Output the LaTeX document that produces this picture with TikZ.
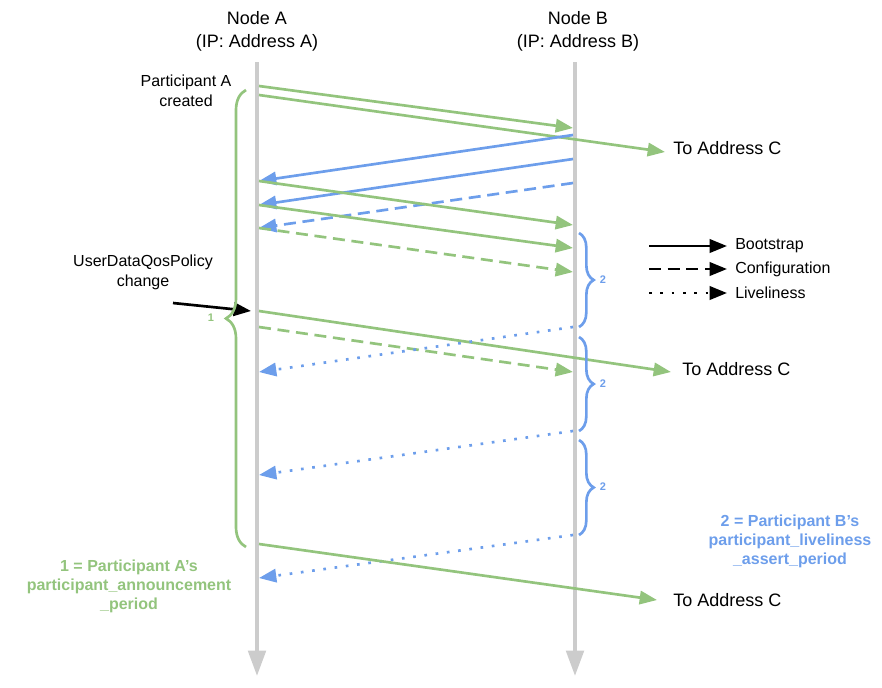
\documentclass[tikz,border=0pt]{standalone}
\usepackage{fontspec}
\setmainfont{Liberation Sans}
\usetikzlibrary{arrows.meta, decorations.pathreplacing}

\definecolor{grn}{HTML}{93C47D}
\definecolor{blu}{HTML}{6D9EEB}
\definecolor{lgray}{HTML}{CCCCCC}

\tikzset{
  msg/.style={line width=2pt, -{Triangle[length=13pt,width=10pt]}},
  gmsg/.style={msg, grn},
  bmsg/.style={msg, blu},
  dsh/.style={dash pattern=on 9pt off 5pt},
  dts/.style={dash pattern=on 2pt off 6.5pt},
  life/.style={line width=3pt, lgray, -{Triangle[length=19pt,width=13pt]}},
  brc/.style={decorate, line width=2pt, decoration={brace, amplitude=#1}},
  lbl/.style={font=\fontsize{12}{15}\selectfont, align=center, inner sep=0pt},
  big/.style={font=\fontsize{13.5}{17.25}\selectfont, align=center, inner sep=0pt},
  defn/.style={font=\bfseries\fontsize{12}{14.3}\selectfont, align=center, inner sep=0pt},
  num/.style={font=\bfseries\fontsize{8.25}{10}\selectfont, inner sep=0pt},
}

\begin{document}
\begin{tikzpicture}[x=0.75pt, y=-0.75pt]
\useasboundingbox (0,0) rectangle (882,687);

% lifelines
\node[big] (nodeA) at (257,31.5) {Node A\\(IP: Address A)};
\node[big] (nodeB) at (578,31.5) {Node B\\(IP: Address B)};
\coordinate (Atop) at (257,62);
\coordinate (Abot) at (257,676);
\coordinate (Btop) at (575,62);
\coordinate (Bbot) at (575,676);
\draw[life] (Atop) -- (Abot);
\draw[life] (Btop) -- (Bbot);

% points on node A
\coordinate (a1) at (259,86);
\coordinate (a2) at (259,95);
\coordinate (a3) at (259,181);
\coordinate (a4) at (259,205);
\coordinate (a5) at (259,228);
\coordinate (a6) at (259,311);
\coordinate (a7) at (259,327);
\coordinate (a8) at (259,372);
\coordinate (a9) at (259,475);
\coordinate (a10) at (259,578);
\coordinate (a11) at (259,544);
% points on node B
\coordinate (b1) at (573,128);
\coordinate (b2) at (573,135);
\coordinate (b3) at (573,159);
\coordinate (b4) at (573,183);
\coordinate (b5) at (573,225);
\coordinate (b6) at (573,248);
\coordinate (b7) at (573,272);
\coordinate (b8) at (573,327);
\coordinate (b9) at (573,372);
\coordinate (b10) at (573,431);
\coordinate (b11) at (573,535);

% towards address C
\node[big, anchor=west] (toC1) at (673,148) {To Address C};
\node[big, anchor=west] (toC2) at (682,369) {To Address C};
\node[big, anchor=west] (toC3) at (673,600) {To Address C};
\coordinate (c1) at (665,152);
\coordinate (c2) at (671,372);
\coordinate (c3) at (657,600);

% messages
\draw[gmsg] (a1) -- (b1);
\draw[gmsg] (a2) -- (c1);
\draw[bmsg] (b2) -- (a3);
\draw[bmsg] (b3) -- (a4);
\draw[bmsg, dsh] (b4) -- (a5);
\draw[gmsg] (a3) -- (b5);
\draw[gmsg] (a4) -- (b6);
\draw[gmsg, dsh] (a5) -- (b7);
\draw[gmsg] (a6) -- (c2);
\draw[gmsg, dsh] (a7) -- (b9);
\draw[bmsg, dts] (b8) -- (a8);
\draw[bmsg, dts] (b10) -- (a9);
\draw[bmsg, dts] (b11) -- (a10);
\draw[gmsg] (a11) -- (c3);

% events on node A
\node[lbl] (created) at (186,91) {Participant A\\created};
\node[lbl] (policy) at (143,272) {UserDataQosPolicy\\change};
\coordinate (p0) at (173,303);
\coordinate (p1) at (251,311);
\draw[msg, black] (p0) -- (p1);

% periods
\draw[grn, brc=15pt] (246,547) -- (246,90);
\node[num, grn] (one) at (211,318) {1};
\draw[blu, brc=11pt] (579,233) -- (579,327);
\draw[blu, brc=11pt] (579,337) -- (579,431);
\draw[blu, brc=11pt] (579,440) -- (579,535);
\node[num, blu] (two1) at (603,280) {2};
\node[num, blu] (two2) at (603,384) {2};
\node[num, blu] (two3) at (603,487) {2};
\node[defn, grn] (def1) at (129,586) {1 = Participant A’s\\participant\_announcement\\\_period};
\node[defn, blu] (def2) at (790,541) {2 = Participant B’s\\participant\_liveliness\\\_assert\_period};

% legend
\coordinate (k1) at (649,246);
\coordinate (k1e) at (727,246);
\coordinate (k2) at (649,269);
\coordinate (k2e) at (727,269);
\coordinate (k3) at (649,293);
\coordinate (k3e) at (727,293);
\draw[msg, black] (k1) -- (k1e);
\draw[msg, black, dsh] (k2) -- (k2e);
\draw[msg, black, dts] (k3) -- (k3e);
\node[lbl, anchor=west] (boot) at (735,246) {Bootstrap};
\node[lbl, anchor=west] (conf) at (735,269) {Configuration};
\node[lbl, anchor=west] (live) at (735,293) {Liveliness};
\end{tikzpicture}
\end{document}
